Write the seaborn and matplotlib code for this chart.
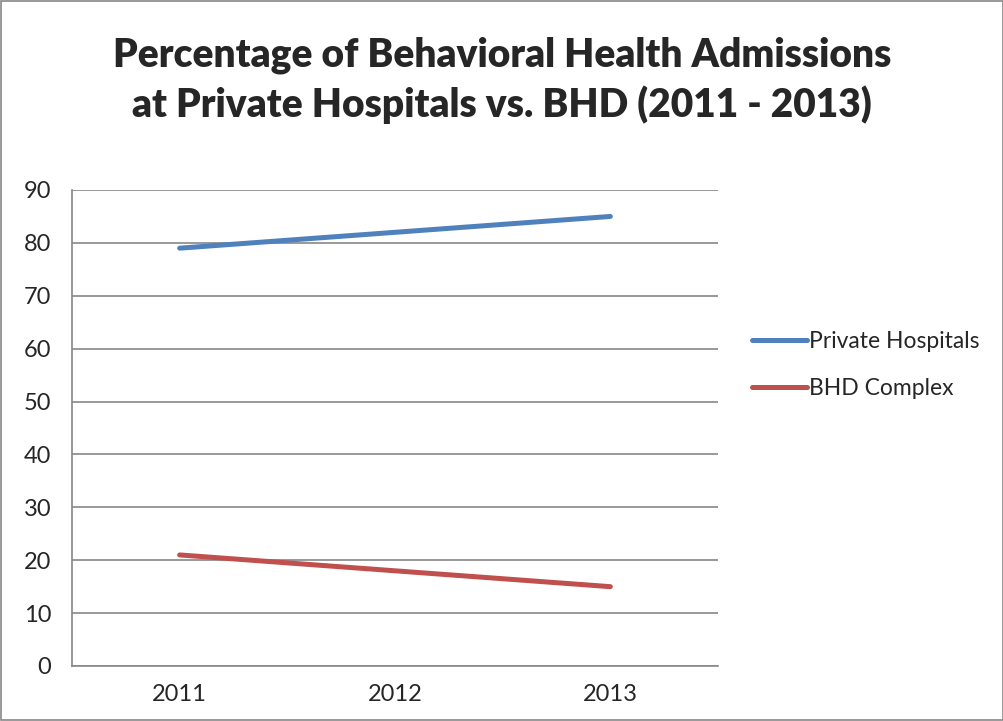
import pandas as pd
import numpy as np
from matplotlib import pyplot as plt
import seaborn as sns

years = ['2011', '2012', '2013']
private_hospitals = [79, 82, 85]
bhd_complex = [21, 18, 15]
series_names = ['Private Hospitals', 'BHD Complex']
colors = ['#4F81BD', '#C0504D']

sns.set_style('white')
plt.rcParams['font.family'] = ['Lato', 'DejaVu Sans']

df = pd.DataFrame({
    'year': years * 2,
    'value': private_hospitals + bhd_complex,
    'series': [series_names[0]] * 3 + [series_names[1]] * 3,
})
df['pos'] = df['year'].map({y: i for i, y in enumerate(years)})

fig = plt.figure(figsize=(10.04, 7.21), dpi=100)
ax = fig.add_axes([72 / 1004, 1 - 666 / 721, (718 - 72) / 1004, (666 - 190) / 721])

sns.lineplot(data=df, x='pos', y='value', hue='series', palette=colors,
             linewidth=3.6, ax=ax, solid_capstyle='round', legend=True)

ax.set_xlim(-0.5, 2.5)
ax.set_ylim(0, 90)
ax.set_yticks(np.arange(0, 91, 10))
ax.set_xticks(range(3))
ax.set_xticklabels(years)
ax.set_xticks([-0.5, 0.5, 1.5, 2.5], minor=True)
ax.tick_params(axis='x', which='major', length=0, pad=13, labelsize=17)
ax.tick_params(axis='x', which='minor', length=8, color='#888888', direction='out', width=1.2)
ax.tick_params(axis='y', length=9, color='#888888', width=1.2, labelsize=17, pad=6)
ax.yaxis.grid(True, color='#888888', linewidth=1.2)
ax.set_axisbelow(True)
for s in ['top', 'right']:
    ax.spines[s].set_visible(False)
for s in ['left', 'bottom']:
    ax.spines[s].set_color('#888888')
    ax.spines[s].set_linewidth(1.2)
ax.set_xlabel('')
ax.set_ylabel('')

leg = ax.legend(loc='center left', bbox_to_anchor=(1.02, 0.632), frameon=False,
                fontsize=16.5, handlelength=2.4, handletextpad=0.1, labelspacing=1.15)
for line in leg.get_lines():
    line.set_linewidth(3.6)

fig.text(0.5, 1 - 55 / 721, 'Percentage of Behavioral Health Admissions', ha='center', va='center',
         fontsize=28, fontweight='heavy')
fig.text(0.5, 1 - 105 / 721, 'at Private Hospitals vs. BHD (2011 - 2013)', ha='center', va='center',
         fontsize=28, fontweight='heavy')

fig.patches.append(plt.Rectangle((0.001, 0.001), 0.998, 0.998, transform=fig.transFigure,
                                 fill=False, edgecolor='#888888', linewidth=1.2))

plt.savefig('out.png', dpi=100)
